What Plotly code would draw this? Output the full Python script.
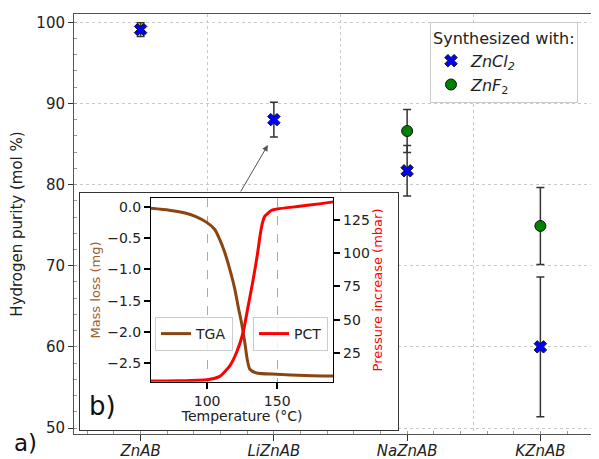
import plotly.graph_objects as go

# ---------------- data ----------------
categories = ["ZnAB", "LiZnAB", "NaZnAB", "KZnAB"]
cat_pos = [0, 1, 2, 3]

zncl2_x = [0, 1, 2, 3]
zncl2_purity = [99.1, 88.0, 81.7, 60.0]
zncl2_err = [0.85, 2.15, 3.1, 8.6]

znf2_x = [2, 3]
znf2_purity = [86.6, 74.9]
znf2_err = [2.65, 4.75]

purity_ticks = [50, 60, 70, 80, 90, 100]
between_cats = [0.5, 1.5, 2.5]

tga_temp = [60, 73, 85, 92, 100, 105.5, 109, 112.6, 116.2, 119.8, 122.1, 124.5,
            126.9, 128.6, 130.5, 135.2, 149.5, 170, 190]
tga_mass = [-0.02, -0.05, -0.10, -0.155, -0.25, -0.36, -0.52, -0.73, -1.0,
            -1.32, -1.59, -1.85, -2.17, -2.44, -2.60, -2.66, -2.68, -2.70, -2.71]

pct_temp = [60, 80, 100, 109, 116.2, 121, 125.7, 129.3, 132.9, 135.7, 138.1,
            139.5, 141.2, 146, 150, 166, 180, 190]
pct_pressure = [3.7, 3.9, 4.7, 7.2, 15.2, 25.2, 40.3, 60.3, 80.4, 98, 115.5,
                123, 128, 132.5, 133.5, 135.5, 137.3, 138.8]

temp_ticks = [100, 150]
mass_ticks = [0.0, -0.5, -1.0, -1.5, -2.0, -2.5]
mass_ticktext = ["0.0", "\u22120.5", "\u22121.0", "\u22121.5", "\u22122.0", "\u22122.5"]
pressure_ticks = [25, 50, 75, 100, 125]

FONT = "DejaVu Sans"
BROWN = "#8B4513"
RED = "#FF0000"

fig = go.Figure()

# main chart traces
fig.add_trace(go.Scatter(
    x=zncl2_x, y=zncl2_purity, mode="markers",
    name="<i>ZnCl</i><sub><i>2</i></sub>",
    marker=dict(symbol="x", size=11, color="#0000FF", line=dict(color="#111", width=1)),
    error_y=dict(type="data", array=zncl2_err, color="#333", thickness=1.5, width=4),
    xaxis="x", yaxis="y", legend="legend"))
fig.add_trace(go.Scatter(
    x=znf2_x, y=znf2_purity, mode="markers",
    name="<i>ZnF</i><sub>2</sub>",
    marker=dict(symbol="circle", size=11, color="#008000", line=dict(color="#111", width=1)),
    error_y=dict(type="data", array=znf2_err, color="#333", thickness=1.5, width=4),
    xaxis="x", yaxis="y", legend="legend"))

# helper trace for overlaid grid axis
fig.add_trace(go.Scatter(x=[None], y=[None], xaxis="x5", yaxis="y",
                         showlegend=False, hoverinfo="skip"))
# frame subplot (inset box)
fig.add_trace(go.Scatter(x=[None], y=[None], xaxis="x2", yaxis="y2",
                         showlegend=False, hoverinfo="skip"))

# inset traces
fig.add_trace(go.Scatter(
    x=tga_temp, y=tga_mass, mode="lines", name="TGA",
    line=dict(color=BROWN, width=3, shape="spline", smoothing=0.6),
    xaxis="x3", yaxis="y3", legend="legend2"))
fig.add_trace(go.Scatter(
    x=pct_temp, y=pct_pressure, mode="lines", name="PCT",
    line=dict(color=RED, width=3, shape="spline", smoothing=0.5),
    xaxis="x3", yaxis="y4", legend="legend3"))

# The page adds an 8 px body margin, so the figure starts at page pixel (8, 8).
W, H = 599, 459
OFF = 8
PL, PR, PT, PB = 74, 607, 14, 434          # plot area in page pixels
ML, MT = PL - OFF, PT - OFF
MR = (W + OFF) - PR
MB = (H + OFF) - PB
PW, PH = PR - PL, PB - PT


def px_x(p):
    return (p - PL) / PW


def px_y(p):
    return (PB - p) / PH


fig.update_layout(
    width=W, height=H,
    margin=dict(l=ML, r=MR, t=MT, b=MB),
    paper_bgcolor="white", plot_bgcolor="white",
    font=dict(family=FONT, color="#222", size=15),
    xaxis=dict(
        domain=[0, 1], anchor="y", range=[-0.5, 3.5],
        tickvals=cat_pos, ticktext=["<i>%s</i>" % c for c in categories],
        tickfont=dict(size=15), ticks="outside", ticklen=6, tickcolor="#333",
        ticklabelstandoff=-3,
        showgrid=False, zeroline=False,
        showline=True, mirror=True, linecolor="#555", linewidth=1,
        minor=dict(dtick=0.2, tick0=0, ticks="inside", ticklen=3, tickcolor="#999", showgrid=False),
    ),
    xaxis5=dict(
        overlaying="x", anchor="y", range=[-0.5, 3.5],
        tickvals=between_cats, showticklabels=False, ticks="",
        showgrid=True, gridcolor="#c8c8c8", griddash="dot", gridwidth=1,
        zeroline=False, showline=False,
    ),
    yaxis=dict(
        domain=[0, 1], anchor="x", range=[49.26, 101.02],
        tickvals=purity_ticks, tickfont=dict(size=15),
        ticks="outside", ticklen=5, tickcolor="#333",
        showgrid=True, gridcolor="#c8c8c8", griddash="dot", gridwidth=1,
        zeroline=False, showline=True, mirror=False, linecolor="#555", linewidth=1,
        title=dict(text="Hydrogen purity (mol %)", font=dict(size=15), standoff=10),
        minor=dict(dtick=2, ticks="inside", ticklen=3, tickcolor="#999", showgrid=False),
    ),
    # inset frame
    xaxis2=dict(
        domain=[px_x(80), px_x(398)], anchor="y2", range=[0, 1],
        showline=True, mirror=True, linecolor="#333", linewidth=1,
        showgrid=False, zeroline=False, showticklabels=False, ticks="",
    ),
    yaxis2=dict(
        domain=[px_y(430), px_y(193)], anchor="x2", range=[0, 1],
        showline=True, mirror=True, linecolor="#333", linewidth=1,
        showgrid=False, zeroline=False, showticklabels=False, ticks="",
    ),
    # inset axes
    xaxis3=dict(
        domain=[px_x(151), px_x(333.3)], anchor="y3", range=[60, 190],
        tickvals=temp_ticks, tickfont=dict(size=14),
        ticks="outside", ticklen=6, tickwidth=2, tickcolor="#000",
        showgrid=True, gridcolor="#aaaaaa", griddash="dash", gridwidth=1,
        zeroline=False, showline=True, mirror=True, linecolor="#000", linewidth=1,
        title=dict(text="Temperature (°C)", font=dict(size=14), standoff=0),
    ),
    yaxis3=dict(
        domain=[px_y(381.7), px_y(198.3)], anchor="x3", range=[-2.80, 0.14],
        tickvals=mass_ticks, ticktext=mass_ticktext, tickfont=dict(size=14),
        ticks="outside", ticklen=6, tickwidth=2, tickcolor="#000",
        showgrid=False, zeroline=False, showline=True, mirror=True,
        linecolor="#000", linewidth=1,
        title=dict(text="Mass loss (mg)", font=dict(size=13, color="#A0602D"), standoff=3),
    ),
    yaxis4=dict(
        overlaying="y3", side="right", anchor="x3", range=[3.2, 141.5],
        tickvals=pressure_ticks, tickfont=dict(size=14),
        ticks="outside", ticklen=6, tickwidth=2, tickcolor="#000",
        showgrid=False, zeroline=False, showline=False,
        title=dict(text="Pressure increase (mbar)", font=dict(size=13, color=RED), standoff=3),
    ),
    legend=dict(
        x=px_x(430), y=px_y(22), xanchor="left", yanchor="top",
        title=dict(text="Synthesized with:", font=dict(size=16)),
        font=dict(size=16), bgcolor="rgba(255,255,255,0.85)",
        bordercolor="#cccccc", borderwidth=1, tracegroupgap=2,
    ),
    legend2=dict(
        x=px_x(155), y=px_y(317), xanchor="left", yanchor="top",
        font=dict(size=14), bgcolor="rgba(255,255,255,0.85)",
        bordercolor="#cccccc", borderwidth=1,
    ),
    legend3=dict(
        x=px_x(253), y=px_y(317), xanchor="left", yanchor="top",
        font=dict(size=14), bgcolor="rgba(255,255,255,0.85)",
        bordercolor="#cccccc", borderwidth=1,
    ),
    showlegend=True,
)

fig.add_annotation(
    x=0.955, y=84.88, xref="x", yref="y", ax=-28, ay=48, axref="pixel", ayref="pixel",
    text="", showarrow=True, arrowhead=2, arrowsize=1.2, arrowwidth=1,
    arrowcolor="#555", standoff=0)
fig.add_annotation(
    x=px_x(25), y=px_y(443), xref="paper", yref="paper", text="a)",
    showarrow=False, font=dict(size=23, color="#111"), xanchor="center", yanchor="middle")
fig.add_annotation(
    x=px_x(102), y=px_y(406), xref="paper", yref="paper", text="b)",
    showarrow=False, font=dict(size=26, color="#111"), xanchor="center", yanchor="middle")

fig.write_html("out.html")
